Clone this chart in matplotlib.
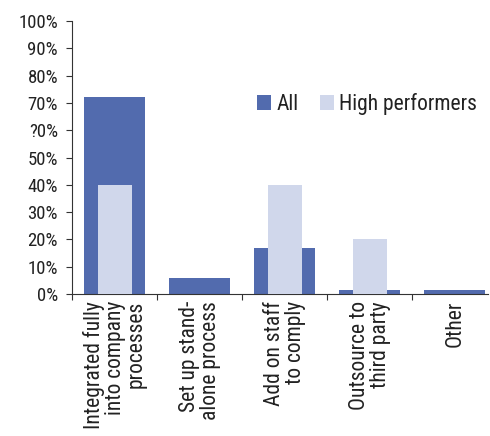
import matplotlib
matplotlib.use("Agg")
import matplotlib.pyplot as plt

# Data
categories = [
    "Integrated fully\ninto company\nprocesses",
    "Set up stand-\nalone process",
    "Add on staff\nto comply",
    "Outsource to\nthird party",
    "Other",
]
all_values = [72, 6, 17, 1.5, 1.5]
high_values = [40, 0, 40, 20, 0]
ytick_values = [0, 10, 20, 30, 40, 50, 60, 70, 80, 90, 100]
ytick_labels = ["0%", "10%", "20%", "30%", "40%", "50%", "?0%", "70%", "80%", "90%", "100%"]

plt.rcParams["font.family"] = ["Roboto Condensed", "DejaVu Sans"]

dark = "#526bae"
light = "#d0d7eb"
text_color = "#222222"

fig = plt.figure(figsize=(4.9, 4.36), dpi=100)
ax = fig.add_axes([72 / 490, 1 - 294 / 436, (488 - 72) / 490, (294 - 21) / 436])

x = list(range(len(categories)))
ax.bar(x, all_values, width=0.72, color=dark, label="All", zorder=2)
ax.bar(x, high_values, width=0.40, color=light, label="High performers", zorder=3)

ax.set_xlim(-0.5, 4.39)
ax.set_ylim(0, 100)
ax.set_yticks(ytick_values)
ax.set_yticklabels(ytick_labels, fontsize=13.5, color=text_color)

ax.set_xticks([-0.5, 0.5, 1.5, 2.5, 3.5])
ax.set_xticklabels([])
ax.set_xticks(x, minor=True)
ax.set_xticklabels(categories, minor=True, rotation=90, fontsize=15.5,
                   color=text_color, va="top", ha="center", multialignment="right",
                   linespacing=1.0)
ax.tick_params(axis="x", which="minor", length=0, pad=5)
ax.tick_params(axis="x", which="major", length=4, width=0.8, color="#333333")
ax.tick_params(axis="y", length=4, width=0.8, color="#333333", pad=6)

for side in ["top", "right"]:
    ax.spines[side].set_visible(False)
for side in ["left", "bottom"]:
    ax.spines[side].set_color("#333333")
    ax.spines[side].set_linewidth(0.8)

ax.legend(loc="upper right", bbox_to_anchor=(477 / 490, 1 - 93 / 436),
          bbox_transform=fig.transFigure, frameon=False, fontsize=15.5,
          ncol=2, handlelength=0.65, handleheight=0.65, handletextpad=0.25,
          columnspacing=1.0, borderaxespad=0, borderpad=0, labelcolor=text_color)

fig.savefig("out.png", dpi=100)
